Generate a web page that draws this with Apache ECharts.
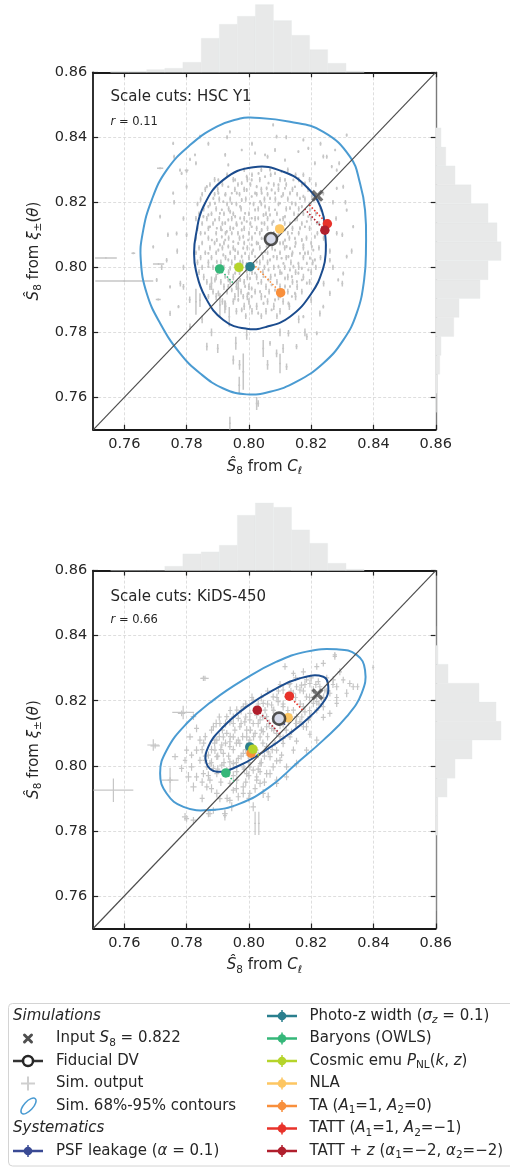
<!DOCTYPE html>
<html><head><meta charset="utf-8">
<script src="https://cdn.jsdelivr.net/npm/echarts@6/dist/echarts.min.js"></script>
<style>html,body{margin:0;padding:0;background:#fff}#c{width:510px;height:1167px}</style>
</head><body><div id="c"></div>
<script>
// ---------------- DATA ----------------
const ticks = [0.76, 0.78, 0.80, 0.82, 0.84, 0.86];
const axisRange = [0.75, 0.86];
const panelTitles = ['Scale cuts: HSC Y1', 'Scale cuts: KiDS-450'];
const rValues = ['0.11', '0.66'];
const inputS8 = 0.822;
const fiducialDV = [[0.8071, 0.8087], [0.8097, 0.8145]];

const sysNames = [
  '{t|PSF leakage (}{i|α}{t| = 0.1)}',
  '{t|Photo-z width (}{i|σ}{subi|z}{t| = 0.1)}',
  '{t|Baryons (OWLS)}',
  '{t|Cosmic emu }{i|P}{sub|NL}{t|(}{i|k}{t|, }{i|z}{t|)}',
  '{t|NLA}',
  '{t|TA (}{i|A}{sub|1}{t|=1, }{i|A}{sub|2}{t|=0)}',
  '{t|TATT (}{i|A}{sub|1}{t|=1, }{i|A}{sub|2}{t|=−1)}',
  '{t|TATT + }{i|z}{t| (}{i|α}{sub|1}{t|=−2, }{i|α}{sub|2}{t|=−2)}'
];
const sysColors = ['#3a4a94', '#2a7f8e', '#35b779', '#b5d42b', '#fdc662', '#f88f3c', '#e8322a', '#b01f2d'];
const sysTop = [[0.8071,0.8087],[0.8004,0.8002],[0.7906,0.7995],[0.7968,0.8000],[0.8099,0.8118],[0.8102,0.7922],[0.8252,0.8134],[0.8244,0.8114]];
const sysBot = [[0.8097,0.8145],[0.8003,0.8058],[0.7926,0.7978],[0.8013,0.8051],[0.8126,0.8148],[0.8007,0.8039],[0.8130,0.8214],[0.8027,0.8171]];

// histogram bin edges and heights
const xEdges = [0.7556,0.7614,0.7672,0.7730,0.7788,0.7847,0.7905,0.7963,0.8021,0.8079,0.8137,0.8195,0.8253,0.8312,0.8370];
const yEdges = [0.7554,0.7612,0.7671,0.7729,0.7787,0.7846,0.7904,0.7962,0.8021,0.8079,0.8137,0.8196,0.8254,0.8312,0.8370,0.8429];
const xHistTop = [1,1,2.7,4,10,34,48,56,67.7,51.7,37,22.7,9,1.3];
const yHistTop = [0.7,1.3,4,5.3,18,23.3,44.3,52.3,65.3,61.3,52.3,35.3,19.3,10,5.3];
const xHistBot = [0,0,0,4.3,16.7,18.7,25.3,55.3,67.7,63.3,40.7,27.3,7.3,1.3];
const yHistBot = [0,0,0,0,2,2,11.3,19.3,36.3,65.3,60.3,43.3,12.3,2.3,0];

// 68% / 95% contours
const inner68Top = [[0.8014,0.8308],[0.8111,0.8294],[0.8185,0.8248],[0.8234,0.8176],[0.8245,0.8100],[0.8247,0.8050],[0.8238,0.7995],[0.8201,0.7920],[0.8132,0.7848],[0.8057,0.7817],[0.7993,0.7811],[0.7918,0.7838],[0.7859,0.7910],[0.7830,0.7990],[0.7824,0.8045],[0.7830,0.8100],[0.7854,0.8187],[0.7918,0.8269]];
const outer95Top = [[0.8004,0.8461],[0.8132,0.8448],[0.8239,0.8417],[0.8325,0.8340],[0.8357,0.8258],[0.8373,0.8176],[0.8376,0.8063],[0.8370,0.7961],[0.8346,0.7858],[0.8303,0.7776],[0.8239,0.7705],[0.8153,0.7648],[0.8068,0.7617],[0.7993,0.7609],[0.7918,0.7627],[0.7843,0.7674],[0.7779,0.7735],[0.7715,0.7828],[0.7672,0.7920],[0.7653,0.8022],[0.7659,0.8105],[0.7688,0.8207],[0.7736,0.8299],[0.7811,0.8376],[0.7897,0.8433],[0.7972,0.8458]];
const inner68Bot = [[0.8239,0.8274],[0.8255,0.8243],[0.8244,0.8202],[0.8196,0.8151],[0.8132,0.8100],[0.8046,0.8043],[0.7961,0.7997],[0.7897,0.7982],[0.7864,0.8007],[0.7870,0.8059],[0.7918,0.8120],[0.7993,0.8182],[0.8078,0.8233],[0.8164,0.8269]];
const outer95Bot = [[0.8282,0.8358],[0.8346,0.8341],[0.8373,0.8294],[0.8362,0.8223],[0.8314,0.8151],[0.8239,0.8079],[0.8153,0.8007],[0.8068,0.7936],[0.7971,0.7884],[0.7875,0.7864],[0.7790,0.7874],[0.7736,0.7915],[0.7715,0.7977],[0.7736,0.8048],[0.7800,0.8130],[0.7886,0.8202],[0.7982,0.8264],[0.8089,0.8320],[0.8185,0.8351]];

// simulation outputs: [x, y, xerr, yerr]
const simTop = [
[0.7784,0.8289,0.0003,0.0005],[0.7827,0.8346,0.0003,0.0004],[0.7924,0.8346,0.0003,0.0006],[0.7934,0.8315,0.0003,0.0005],
[0.7977,0.8361,0.0003,0.0004],[0.8020,0.8351,0.0003,0.0005],[0.8052,0.8346,0.0003,0.0004],[0.8084,0.8361,0.0003,0.0006],
[0.8116,0.8330,0.0003,0.0005],[0.8159,0.8356,0.0003,0.0004],[0.8191,0.8366,0.0003,0.0005],[0.8212,0.8320,0.0003,0.0006],
[0.8266,0.8310,0.0003,0.0005],[0.8277,0.8361,0.0003,0.0004],[0.7902,0.8269,0.0003,0.0005],[0.7865,0.8248,0.0003,0.0005],
[0.7800,0.8295,0.0003,0.0004],
[0.7902,0.8228,0.0003,0.0005],[0.7934,0.8248,0.0003,0.0004],[0.7977,0.8259,0.0003,0.0006],[0.8009,0.8269,0.0003,0.0005],
[0.8052,0.8279,0.0003,0.0004],[0.8084,0.8289,0.0003,0.0005],[0.8116,0.8269,0.0003,0.0006],[0.8148,0.8248,0.0003,0.0004],
[0.8180,0.8259,0.0003,0.0005],[0.8202,0.8218,0.0003,0.0006],[0.7870,0.8187,0.0003,0.0005],[0.7913,0.8177,0.0003,0.0004],
[0.7945,0.8197,0.0003,0.0005],[0.7977,0.8207,0.0003,0.0006],[0.8009,0.8218,0.0003,0.0004],[0.8041,0.8228,0.0003,0.0005],
[0.8073,0.8238,0.0003,0.0005],[0.8105,0.8218,0.0003,0.0004],[0.8138,0.8197,0.0003,0.0006],[0.8170,0.8187,0.0003,0.0005],
[0.8191,0.8156,0.0003,0.0004],[0.7891,0.8146,0.0003,0.0005],[0.7924,0.8136,0.0003,0.0006],[0.7956,0.8156,0.0003,0.0005],
[0.7988,0.8166,0.0003,0.0004],[0.8020,0.8177,0.0003,0.0005],[0.8052,0.8187,0.0003,0.0006],[0.8084,0.8177,0.0003,0.0004],
[0.8116,0.8156,0.0003,0.0005],[0.8148,0.8146,0.0003,0.0005],[0.8180,0.8125,0.0003,0.0004],[0.8212,0.8094,0.0003,0.0006],
[0.7859,0.8105,0.0003,0.0005],[0.7881,0.8084,0.0003,0.0004],[0.7913,0.8094,0.0003,0.0005],[0.7945,0.8105,0.0003,0.0006],
[0.7977,0.8115,0.0003,0.0005],[0.8009,0.8125,0.0003,0.0004],[0.8041,0.8136,0.0003,0.0005],[0.8105,0.8125,0.0003,0.0005],
[0.8138,0.8105,0.0003,0.0004],[0.8170,0.8084,0.0003,0.0006],[0.8202,0.8064,0.0003,0.0005],[0.7870,0.8043,0.0003,0.0004],
[0.7902,0.8053,0.0003,0.0005],[0.7934,0.8064,0.0003,0.0006],[0.7966,0.8074,0.0003,0.0005],[0.7998,0.8084,0.0003,0.0004],
[0.8030,0.8074,0.0003,0.0005],[0.8116,0.8084,0.0003,0.0005],[0.8148,0.8064,0.0003,0.0004],[0.8180,0.8043,0.0003,0.0006],
[0.8212,0.8023,0.0003,0.0005],[0.7870,0.8002,0.0003,0.0004],[0.7934,0.8023,0.0003,0.0005],[0.7977,0.8033,0.0003,0.0006],
[0.8041,0.8043,0.0003,0.0005],[0.8084,0.8053,0.0003,0.0004],[0.8127,0.8033,0.0003,0.0005],[0.8159,0.8012,0.0003,0.0005],
[0.8191,0.7992,0.0003,0.0004],[0.7891,0.7961,0.0003,0.0008],[0.7924,0.7971,0.0003,0.0006],[0.7956,0.7982,0.0003,0.0005],
[0.8020,0.7982,0.0003,0.0004],[0.8063,0.7992,0.0003,0.0005],[0.8095,0.8002,0.0003,0.0006],[0.8138,0.7971,0.0003,0.0005],
[0.8170,0.7961,0.0003,0.0004],[0.7902,0.7920,0.0003,0.0009],[0.7945,0.7930,0.0003,0.0007],[0.7988,0.7941,0.0003,0.0005],
[0.8030,0.7951,0.0003,0.0004],[0.8063,0.7961,0.0003,0.0005],[0.8116,0.7941,0.0003,0.0006],[0.8148,0.7920,0.0003,0.0005],
[0.7870,0.7910,0.0003,0.0008],[0.7924,0.7889,0.0003,0.0007],[0.7966,0.7900,0.0003,0.0006],[0.8009,0.7910,0.0003,0.0005],
[0.8052,0.7910,0.0003,0.0004],[0.8084,0.7900,0.0003,0.0005],[0.8127,0.7889,0.0003,0.0006],[0.7977,0.7869,0.0003,0.0007],
[0.8030,0.7859,0.0003,0.0005],[0.8073,0.7869,0.0003,0.0004],
[0.7886,0.8212,0.0003,0.0005],[0.7918,0.8202,0.0003,0.0004],[0.7961,0.8228,0.0003,0.0005],[0.7993,0.8238,0.0003,0.0006],
[0.8025,0.8248,0.0003,0.0005],[0.8063,0.8259,0.0003,0.0004],[0.8095,0.8254,0.0003,0.0005],[0.8132,0.8228,0.0003,0.0006],
[0.8164,0.8212,0.0003,0.0005],[0.7897,0.8120,0.0003,0.0004],[0.7929,0.8110,0.0003,0.0005],[0.7961,0.8130,0.0003,0.0005],
[0.7993,0.8141,0.0003,0.0004],[0.8030,0.8151,0.0003,0.0006],[0.8068,0.8161,0.0003,0.0005],[0.8100,0.8146,0.0003,0.0004],
[0.8132,0.8136,0.0003,0.0005],[0.8164,0.8120,0.0003,0.0006],[0.7907,0.8069,0.0003,0.0005],[0.7950,0.8079,0.0003,0.0004],
[0.7982,0.8059,0.0003,0.0005],[0.8014,0.8053,0.0003,0.0005],[0.8057,0.8064,0.0003,0.0004],[0.8100,0.8074,0.0003,0.0006],
[0.8132,0.8058,0.0003,0.0005],[0.8164,0.8043,0.0003,0.0004],[0.8196,0.8028,0.0003,0.0005],[0.7897,0.8017,0.0003,0.0006],
[0.7956,0.8007,0.0003,0.0005],[0.7993,0.8012,0.0003,0.0004],[0.8025,0.8017,0.0003,0.0005],[0.8068,0.8023,0.0003,0.0005],
[0.8105,0.8028,0.0003,0.0004],[0.8143,0.8002,0.0003,0.0006],[0.7913,0.7987,0.0003,0.0007],[0.7972,0.7961,0.0003,0.0006],
[0.8004,0.7966,0.0003,0.0005],[0.8047,0.7971,0.0003,0.0004],[0.8084,0.7976,0.0003,0.0005],[0.8116,0.7966,0.0003,0.0006],
[0.8186,0.7951,0.0003,0.0005],[0.7934,0.7941,0.0003,0.0008],[0.8009,0.7935,0.0003,0.0006],[0.8084,0.7930,0.0003,0.0005],
[0.8138,0.7910,0.0003,0.0004],
[0.7854,0.8156,0.0003,0.0005],[0.7875,0.8125,0.0003,0.0004],[0.7897,0.8084,0.0003,0.0006],[0.7918,0.8038,0.0003,0.0005],
[0.7940,0.7997,0.0003,0.0007],[0.7961,0.7951,0.0003,0.0006],[0.7982,0.7910,0.0003,0.0008],[0.8004,0.7879,0.0003,0.0006],
[0.8047,0.7889,0.0003,0.0005],[0.8100,0.7910,0.0003,0.0005],[0.8132,0.7941,0.0003,0.0004],[0.8159,0.7982,0.0003,0.0005],
[0.8186,0.8012,0.0003,0.0005],[0.8207,0.8053,0.0003,0.0004],[0.8218,0.8136,0.0003,0.0005],[0.8196,0.8177,0.0003,0.0006],
[0.8175,0.8218,0.0003,0.0005],[0.8143,0.8269,0.0003,0.0004],[0.8105,0.8295,0.0003,0.0005],[0.8068,0.8300,0.0003,0.0005],
[0.8031,0.8289,0.0003,0.0004],[0.7993,0.8279,0.0003,0.0006],[0.7956,0.8269,0.0003,0.0005],[0.7924,0.8223,0.0003,0.0004],
[0.7891,0.8197,0.0003,0.0005],[0.7870,0.8161,0.0003,0.0005],[0.7907,0.8166,0.0003,0.0004],[0.7940,0.8171,0.0003,0.0006],
[0.7972,0.8187,0.0003,0.0005],[0.8004,0.8197,0.0003,0.0004],[0.8036,0.8202,0.0003,0.0005],[0.8068,0.8212,0.0003,0.0005],
[0.8100,0.8197,0.0003,0.0004],[0.8132,0.8182,0.0003,0.0006],[0.8159,0.8161,0.0003,0.0005],[0.8186,0.8141,0.0003,0.0004],
[0.7934,0.8146,0.0003,0.0005],[0.7972,0.8151,0.0003,0.0005],[0.8009,0.8151,0.0003,0.0004],[0.8047,0.8161,0.0003,0.0006],
[0.8079,0.8141,0.0003,0.0005],[0.8116,0.8115,0.0003,0.0004],[0.8148,0.8089,0.0003,0.0005],[0.8175,0.8069,0.0003,0.0005],
[0.7924,0.8084,0.0003,0.0004],[0.7956,0.8053,0.0003,0.0006],[0.7988,0.8043,0.0003,0.0005],[0.8020,0.8033,0.0003,0.0004],
[0.8052,0.8048,0.0003,0.0005],[0.8079,0.8033,0.0003,0.0005],[0.8111,0.8012,0.0003,0.0004],[0.8138,0.8038,0.0003,0.0006],
[0.8170,0.7997,0.0003,0.0005],[0.7907,0.8002,0.0003,0.0006],[0.7934,0.7961,0.0003,0.0007],[0.7966,0.7935,0.0003,0.0006],
[0.7998,0.7920,0.0003,0.0005],[0.8036,0.7925,0.0003,0.0005],[0.8073,0.7946,0.0003,0.0004],[0.8105,0.7982,0.0003,0.0005],
[0.8132,0.7992,0.0003,0.0005],[0.8154,0.7956,0.0003,0.0004],[0.8031,0.7997,0.0003,0.0005],[0.7993,0.7987,0.0003,0.0006],
[0.7972,0.8018,0.0003,0.0005],[0.8009,0.8069,0.0003,0.0004],[0.8041,0.8089,0.0003,0.0005],[0.8068,0.8100,0.0003,0.0005],
[0.8020,0.8105,0.0003,0.0004],[0.7982,0.8094,0.0003,0.0006],[0.7950,0.8120,0.0003,0.0005],[0.7913,0.8115,0.0003,0.0004],
[0.8095,0.8100,0.0003,0.0005],[0.8121,0.8064,0.0003,0.0005],[0.8089,0.8125,0.0003,0.0004],[0.8041,0.8115,0.0003,0.0006],
[0.7977,0.8136,0.0003,0.0005],[0.7945,0.8228,0.0003,0.0004],[0.8020,0.8228,0.0003,0.0005],[0.8084,0.8228,0.0003,0.0005],
[0.8116,0.8243,0.0003,0.0004],[0.8057,0.8243,0.0003,0.0006],
[0.7830,0.7894,0.0003,0.0040],[0.7843,0.7899,0.0003,0.0021],[0.7880,0.7951,0.0003,0.0021],[0.7907,0.7884,0.0003,0.0036],
[0.7923,0.7879,0.0003,0.0020],[0.7937,0.7848,0.0003,0.0030],[0.7939,0.7520,0.0003,0.0020],[0.7958,0.7766,0.0003,0.0020],
[0.7966,0.7935,0.0003,0.0026],[0.7969,0.7637,0.0003,0.0026],[0.7982,0.7679,0.0003,0.0056],[0.7993,0.7792,0.0003,0.0015],
[0.8046,0.7750,0.0003,0.0026],[0.8100,0.7704,0.0003,0.0030],[0.8030,0.7581,0.0003,0.0010],[0.8127,0.7797,0.0003,0.0010],
[0.7715,0.8305,0.0010,0.0003],[0.7800,0.8299,0.0006,0.0003],[0.7811,0.8332,0.0003,0.0005],[0.8078,0.8438,0.0003,0.0005],
[0.8314,0.8407,0.0003,0.0005],[0.8282,0.8243,0.0003,0.0005],[0.8314,0.8033,0.0003,0.0006],[0.8287,0.7961,0.0003,0.0005],
[0.8335,0.8125,0.0003,0.0005],[0.7709,0.7901,0.0008,0.0003],[0.7747,0.7940,0.0003,0.0005],[0.7629,0.8043,0.0006,0.0003],
[0.7774,0.7879,0.0003,0.0005],[0.8239,0.7879,0.0003,0.0006],[0.8175,0.7848,0.0003,0.0005],[0.8153,0.7756,0.0003,0.0008],
[0.8218,0.7797,0.0003,0.0006],[0.8068,0.7766,0.0003,0.0007],[0.8025,0.7581,0.0003,0.0020],[0.8121,0.7694,0.0003,0.0010],
[0.7541,0.8029,0.0035,0.0003],[0.7600,0.7958,0.0093,0.0003],[0.7710,0.8010,0.0018,0.0003],
[0.7757,0.8381,0.0003,0.0005],[0.7843,0.8402,0.0003,0.0006],[0.7939,0.8417,0.0003,0.0005],[0.8089,0.8402,0.0003,0.0006],
[0.8175,0.8392,0.0003,0.0005],[0.8239,0.8341,0.0003,0.0006],[0.8282,0.8299,0.0003,0.0005],[0.8303,0.8248,0.0003,0.0006],
[0.8314,0.8176,0.0003,0.0005],[0.8282,0.8105,0.0003,0.0007],[0.8303,0.7981,0.0003,0.0006],[0.8260,0.7920,0.0003,0.0008],
[0.8228,0.7858,0.0003,0.0009],[0.8186,0.7786,0.0003,0.0010],[0.8089,0.7735,0.0003,0.0012],[0.7950,0.7715,0.0003,0.0014],
[0.7865,0.7756,0.0003,0.0012],[0.7811,0.7817,0.0003,0.0010],[0.7747,0.7858,0.0003,0.0008],[0.7704,0.7961,0.0003,0.0006],
[0.7693,0.8063,0.0003,0.0005],[0.7715,0.8156,0.0003,0.0006],[0.7757,0.8228,0.0003,0.0005],[0.7800,0.8248,0.0003,0.0006],
[0.7779,0.8299,0.0003,0.0005],[0.7736,0.8022,0.0003,0.0007],[0.7768,0.8104,0.0003,0.0006],[0.7790,0.7940,0.0003,0.0009],
[0.8239,0.8227,0.0003,0.0006],[0.8260,0.8022,0.0003,0.0007]
];
// further simulation outputs read row by row: [y, xerr, yerr, [x values]]
const simTopRows = [
[0.8300,0.0003,0.0007,[0.7985,0.8040,0.8125]],
[0.8285,0.0003,0.0007,[0.7930,0.8010,0.8070,0.8150,0.8175]],
[0.8270,0.0003,0.0008,[0.7890,0.7950,0.7995,0.8035,0.8100,0.8160,0.8195]],
[0.8255,0.0003,0.0007,[0.7875,0.7915,0.7965,0.8005,0.8080,0.8120,0.8170,0.8215]],
[0.8240,0.0003,0.0008,[0.7860,0.7900,0.7955,0.7985,0.8040,0.8095,0.8140,0.8190]],
[0.8225,0.0003,0.0007,[0.7850,0.7890,0.7925,0.7970,0.8025,0.8060,0.8110,0.8155,0.8205]],
[0.8210,0.0003,0.0008,[0.7845,0.7905,0.7940,0.7990,0.8050,0.8085,0.8125,0.8180,0.8225]],
[0.8195,0.0003,0.0007,[0.7835,0.7875,0.7930,0.7960,0.8015,0.8040,0.8095,0.8150,0.8195]],
[0.8180,0.0003,0.0008,[0.7855,0.7895,0.7935,0.7975,0.8030,0.8065,0.8120,0.8160,0.8230]],
[0.8165,0.0003,0.0007,[0.7840,0.7880,0.7920,0.7950,0.8000,0.8055,0.8090,0.8145,0.8175,0.8215]],
[0.8150,0.0003,0.0008,[0.7830,0.7865,0.7905,0.7945,0.7985,0.8020,0.8060,0.8110,0.8155,0.8200,0.8240]],
[0.8135,0.0003,0.0007,[0.7850,0.7885,0.7915,0.7960,0.8005,0.8050,0.8075,0.8115,0.8170,0.8225]],
[0.8120,0.0003,0.0008,[0.7835,0.7870,0.7910,0.7940,0.7985,0.8025,0.8060,0.8140,0.8195,0.8235]],
[0.8105,0.0003,0.0007,[0.7845,0.7895,0.7925,0.7965,0.8000,0.8035,0.8080,0.8125,0.8160,0.8220]],
[0.8090,0.0003,0.0008,[0.7830,0.7870,0.7935,0.7970,0.8010,0.8050,0.8090,0.8130,0.8185,0.8240]],
[0.8075,0.0003,0.0007,[0.7850,0.7890,0.7920,0.7985,0.8025,0.8065,0.8110,0.8150,0.8200]],
[0.8060,0.0003,0.0008,[0.7840,0.7875,0.7915,0.7950,0.7995,0.8035,0.8075,0.8115,0.8175,0.8225]],
[0.8045,0.0003,0.0007,[0.7830,0.7860,0.7895,0.7940,0.7965,0.8010,0.8060,0.8100,0.8140,0.8190]],
[0.8030,0.0003,0.0008,[0.7845,0.7880,0.7925,0.7955,0.8000,0.8045,0.8090,0.8120,0.8175,0.8230]],
[0.8015,0.0003,0.0009,[0.7835,0.7870,0.7910,0.7945,0.7980,0.8035,0.8060,0.8135,0.8205]],
[0.8000,0.0003,0.0008,[0.7850,0.7885,0.7920,0.7990,0.8050,0.8080,0.8115,0.8160,0.8215]],
[0.7985,0.0003,0.0009,[0.7840,0.7900,0.7935,0.7970,0.8010,0.8045,0.8100,0.8150,0.8200]],
[0.7970,0.0003,0.0010,[0.7855,0.7895,0.7950,0.7995,0.8025,0.8070,0.8125,0.8175]],
[0.7955,0.0003,0.0009,[0.7865,0.7910,0.7940,0.7985,0.8040,0.8090,0.8140,0.8195]],
[0.7940,0.0003,0.0010,[0.7875,0.7920,0.7960,0.8000,0.8055,0.8100,0.8155]],
[0.7925,0.0003,0.0009,[0.7885,0.7930,0.7975,0.8020,0.8065,0.8125,0.8170]],
[0.7910,0.0003,0.0011,[0.7895,0.7955,0.7995,0.8040,0.8095,0.8150]],
[0.7895,0.0003,0.0010,[0.7915,0.7950,0.8000,0.8060,0.8110]],
[0.7880,0.0003,0.0011,[0.7925,0.7985,0.8025,0.8080,0.8130]],
[0.7865,0.0003,0.0010,[0.7960,0.8010,0.8055,0.8100]],
[0.7850,0.0003,0.0009,[0.7990,0.8040,0.8090]],
[0.8400,0.0003,0.0006,[0.7930,0.8120]],
[0.8380,0.0003,0.0006,[0.7870,0.8010,0.8230]],
[0.8340,0.0003,0.0006,[0.7760,0.8060,0.8250]],
[0.8320,0.0003,0.0006,[0.7830,0.8290]],
[0.8200,0.0003,0.0007,[0.7760,0.8270,0.8310]],
[0.8150,0.0003,0.0007,[0.7790,0.8280]],
[0.8100,0.0003,0.0007,[0.7740,0.7800,0.8300]],
[0.8050,0.0003,0.0008,[0.7770,0.8260,0.8330]],
[0.8000,0.0003,0.0008,[0.7720,0.7790,0.8270]],
[0.7950,0.0003,0.0009,[0.7780,0.8240,0.8300]],
[0.7900,0.0003,0.0010,[0.7810,0.8200]],
[0.7840,0.0003,0.0012,[0.7850,0.8160]],
[0.7800,0.0003,0.0012,[0.7880,0.8100,0.8180]],
[0.7750,0.0003,0.0014,[0.7900,0.8110]],
[0.7700,0.0003,0.0015,[0.7970,0.8060]]
];
const simBot = [
[0.7565,0.7925,0.0064,0.0036],[0.7747,0.7956,0.0027,0.0038],[0.7693,0.8064,0.0019,0.0018],[0.7789,0.8164,0.0035,0.0021],
[0.7859,0.8269,0.0012,0.0008],[0.8020,0.7823,0.0003,0.0036],[0.8032,0.7823,0.0003,0.0036],[0.7800,0.7838,0.0008,0.0010],
[0.7923,0.7847,0.0006,0.0015],[0.7875,0.7853,0.0008,0.0010],[0.8399,0.8303,0.0004,0.0008],
[0.7854,0.8269,0.0010,0.0008],[0.7784,0.8161,0.0012,0.0009],[0.7822,0.8151,0.0009,0.0010],[0.7832,0.8115,0.0008,0.0012],
[0.7811,0.8089,0.0010,0.0010],[0.7843,0.8079,0.0008,0.0013],[0.7699,0.8061,0.0015,0.0008],[0.7763,0.8028,0.0010,0.0010],
[0.7832,0.8048,0.0009,0.0012],[0.7891,0.8079,0.0008,0.0010],[0.7918,0.8089,0.0007,0.0011],[0.7816,0.7997,0.0009,0.0012],
[0.7806,0.7966,0.0010,0.0015],[0.7854,0.7976,0.0008,0.0011],[0.7875,0.7956,0.0009,0.0010],[0.7747,0.7956,0.0008,0.0009],
[0.7822,0.7935,0.0010,0.0014],[0.7865,0.7935,0.0008,0.0011],[0.7897,0.7915,0.0009,0.0012],[0.7950,0.7925,0.0008,0.0010],
[0.7982,0.7935,0.0009,0.0013],[0.8003,0.7915,0.0008,0.0011],[0.7939,0.7894,0.0009,0.0010],[0.8036,0.7946,0.0008,0.0012],
[0.8014,0.7874,0.0009,0.0014],[0.7795,0.7843,0.0010,0.0012],[0.7822,0.7833,0.0009,0.0010],[0.7870,0.7853,0.0008,0.0011],
[0.7923,0.7853,0.0009,0.0013],[0.7886,0.7863,0.0008,0.0010],
[0.8116,0.8305,0.0008,0.0010],[0.8143,0.8284,0.0007,0.0009],[0.8175,0.8289,0.0008,0.0011],[0.8218,0.8305,0.0008,0.0010],
[0.8276,0.8341,0.0007,0.0009],[0.8239,0.8315,0.0008,0.0010],[0.8292,0.8289,0.0007,0.0011],[0.8324,0.8253,0.0008,0.0010],
[0.8314,0.8223,0.0007,0.0012],[0.8335,0.8243,0.0008,0.0010],[0.8185,0.8264,0.0008,0.0009],[0.8153,0.8243,0.0007,0.0010],
[0.8271,0.8264,0.0008,0.0011],[0.8239,0.8182,0.0007,0.0012],[0.8260,0.8161,0.0008,0.0010],[0.8282,0.8192,0.0007,0.0011],
[0.7929,0.8151,0.0008,0.0010],[0.7950,0.8130,0.0008,0.0011],[0.7971,0.8120,0.0007,0.0010],[0.7993,0.8110,0.0008,0.0012],
[0.8014,0.8130,0.0008,0.0010],[0.8036,0.8141,0.0007,0.0011],[0.8057,0.8151,0.0008,0.0010],[0.8003,0.8161,0.0008,0.0012],
[0.7982,0.8182,0.0007,0.0010],[0.8046,0.8192,0.0008,0.0011],[0.8078,0.8212,0.0008,0.0010],[0.8110,0.8233,0.0007,0.0012],
[0.8132,0.8253,0.0008,0.0010],[0.8164,0.8233,0.0008,0.0011],[0.8185,0.8212,0.0007,0.0010],[0.8207,0.8233,0.0008,0.0012],
[0.8228,0.8243,0.0008,0.0010],[0.8175,0.8182,0.0007,0.0011],[0.8143,0.8171,0.0008,0.0010],[0.8110,0.8182,0.0008,0.0012],
[0.8078,0.8171,0.0007,0.0010],[0.8057,0.8120,0.0008,0.0011],[0.8089,0.8100,0.0008,0.0010],[0.8036,0.8089,0.0007,0.0012],
[0.8003,0.8079,0.0008,0.0010],[0.7971,0.8069,0.0008,0.0011],[0.7939,0.8059,0.0007,0.0010],[0.7918,0.8038,0.0008,0.0012],
[0.7897,0.8028,0.0008,0.0010],[0.7875,0.8007,0.0007,0.0011],[0.7950,0.8089,0.0008,0.0010],[0.7982,0.8038,0.0008,0.0012],
[0.8025,0.8048,0.0007,0.0010],[0.8057,0.8059,0.0008,0.0011],[0.8089,0.8048,0.0008,0.0010],[0.8110,0.8069,0.0007,0.0012],
[0.8132,0.8089,0.0008,0.0010],[0.8153,0.8130,0.0008,0.0011],[0.8175,0.8120,0.0007,0.0010],[0.8196,0.8151,0.0008,0.0012],
[0.8218,0.8171,0.0008,0.0010],[0.8143,0.8048,0.0007,0.0011],[0.8100,0.8017,0.0008,0.0010],[0.8068,0.8028,0.0008,0.0012],
[0.8036,0.8007,0.0007,0.0010],[0.8014,0.7987,0.0008,0.0011],[0.7982,0.7997,0.0008,0.0010],[0.7950,0.8007,0.0007,0.0012],
[0.7929,0.7987,0.0008,0.0010],[0.7897,0.7976,0.0008,0.0011],[0.7865,0.7997,0.0007,0.0010],[0.8057,0.7976,0.0008,0.0012],
[0.8025,0.7956,0.0008,0.0010],[0.8089,0.7956,0.0007,0.0011],[0.8121,0.7997,0.0008,0.0010],[0.7961,0.7956,0.0008,0.0012],
[0.7939,0.7946,0.0007,0.0010],[0.8003,0.8141,0.0008,0.0011],[0.8014,0.8202,0.0008,0.0010],[0.7961,0.8171,0.0007,0.0012],
[0.7929,0.8100,0.0008,0.0010],[0.7897,0.8079,0.0008,0.0011],[0.7907,0.8130,0.0007,0.0010],[0.7886,0.8120,0.0008,0.0012],
[0.8276,0.8336,0.0007,0.0010],[0.8349,0.8243,0.0006,0.0010],[0.8282,0.8210,0.0007,0.0011],[0.8239,0.8149,0.0008,0.0010],
[0.8185,0.8120,0.0007,0.0012],[0.8153,0.8076,0.0008,0.0010],[0.8196,0.8097,0.0007,0.0011],[0.8089,0.8015,0.0008,0.0010],
[0.8068,0.7976,0.0008,0.0013],[0.8025,0.7966,0.0007,0.0011],[0.8046,0.7915,0.0008,0.0014],[0.7982,0.7915,0.0008,0.0012],
[0.8003,0.7997,0.0007,0.0010],
[0.7939,0.8135,0.0008,0.0011],[0.7966,0.8146,0.0008,0.0010],[0.7987,0.8135,0.0007,0.0012],[0.8025,0.8156,0.0008,0.0011],
[0.8052,0.8171,0.0008,0.0010],[0.8073,0.8187,0.0007,0.0011],[0.8094,0.8197,0.0008,0.0012],[0.8121,0.8212,0.0008,0.0010],
[0.8143,0.8223,0.0007,0.0011],[0.8169,0.8248,0.0008,0.0010],[0.8196,0.8253,0.0008,0.0012],[0.8223,0.8259,0.0007,0.0010],
[0.8244,0.8233,0.0008,0.0011],[0.8234,0.8207,0.0008,0.0010],[0.8207,0.8192,0.0007,0.0012],[0.8180,0.8166,0.0008,0.0011],
[0.8153,0.8151,0.0008,0.0010],[0.8127,0.8135,0.0007,0.0011],[0.8100,0.8125,0.0008,0.0012],[0.8073,0.8115,0.0008,0.0010],
[0.8046,0.8105,0.0007,0.0011],[0.8020,0.8100,0.0008,0.0010],[0.7993,0.8089,0.0008,0.0012],[0.7966,0.8079,0.0007,0.0010],
[0.7939,0.8074,0.0008,0.0011],[0.7913,0.8064,0.0008,0.0010],[0.7891,0.8048,0.0007,0.0012],[0.7870,0.8033,0.0008,0.0011],
[0.7859,0.8017,0.0008,0.0010],[0.7886,0.7992,0.0007,0.0012],[0.7913,0.8002,0.0008,0.0010],[0.7939,0.8012,0.0008,0.0011],
[0.7966,0.8023,0.0007,0.0010],[0.7998,0.8033,0.0008,0.0012],[0.8030,0.8033,0.0008,0.0010],[0.8062,0.8043,0.0007,0.0011],
[0.8084,0.8069,0.0008,0.0010],[0.8110,0.8084,0.0008,0.0012],[0.8137,0.8105,0.0007,0.0010],[0.8164,0.8135,0.0008,0.0011],
[0.8191,0.8141,0.0008,0.0010],[0.8218,0.8197,0.0007,0.0012],[0.8260,0.8223,0.0008,0.0010],[0.8282,0.8243,0.0008,0.0011],
[0.8303,0.8264,0.0007,0.0010],[0.7961,0.7982,0.0008,0.0012],[0.7993,0.7976,0.0008,0.0011],[0.8036,0.7982,0.0007,0.0010],
[0.8078,0.7997,0.0008,0.0012],[0.8105,0.8033,0.0008,0.0010],[0.7843,0.8017,0.0007,0.0011],[0.7816,0.8033,0.0008,0.0010],
[0.7800,0.8048,0.0008,0.0012],[0.7795,0.8017,0.0007,0.0010],[0.7832,0.7966,0.0008,0.0013],[0.7784,0.7992,0.0008,0.0011],
[0.7945,0.7874,0.0007,0.0014],[0.7966,0.7905,0.0008,0.0012],[0.7907,0.7899,0.0008,0.0011],[0.8062,0.7905,0.0007,0.0013],
[0.8089,0.7946,0.0008,0.0011],[0.8121,0.7966,0.0008,0.0010],[0.8153,0.8007,0.0007,0.0012],[0.8185,0.8048,0.0008,0.0010],
[0.8218,0.8079,0.0008,0.0011]
];
const simBotRows = [
[0.8270,0.0008,0.0010,[0.8150,0.8200,0.8250]],
[0.8250,0.0007,0.0011,[0.8100,0.8130,0.8180,0.8215,0.8270]],
[0.8230,0.0008,0.0010,[0.8060,0.8095,0.8135,0.8175,0.8250]],
[0.8210,0.0007,0.0012,[0.8010,0.8040,0.8090,0.8150,0.8195,0.8240]],
[0.8190,0.0008,0.0011,[0.7990,0.8030,0.8060,0.8110,0.8165,0.8225]],
[0.8170,0.0007,0.0012,[0.7940,0.7975,0.8020,0.8080,0.8125,0.8195]],
[0.8150,0.0008,0.0011,[0.7905,0.7950,0.7990,0.8045,0.8085,0.8135,0.8170]],
[0.8130,0.0007,0.0012,[0.7895,0.7925,0.7975,0.8030,0.8065,0.8110,0.8150]],
[0.8110,0.0008,0.0011,[0.7880,0.7915,0.7955,0.8005,0.8040,0.8080,0.8120]],
[0.8090,0.0007,0.0012,[0.7860,0.7905,0.7940,0.7980,0.8015,0.8060,0.8100]],
[0.8070,0.0008,0.0011,[0.7855,0.7890,0.7925,0.7960,0.8000,0.8045]],
[0.8050,0.0007,0.0012,[0.7850,0.7880,0.7910,0.7950,0.7990,0.8020,0.8075]],
[0.8030,0.0008,0.0011,[0.7860,0.7900,0.7935,0.7975,0.8010,0.8050]],
[0.8010,0.0007,0.0013,[0.7880,0.7920,0.7960,0.8000,0.8040]],
[0.7990,0.0008,0.0012,[0.7900,0.7940,0.7985,0.8030]],
[0.7970,0.0008,0.0013,[0.7870,0.7950,0.8000]],
[0.7950,0.0008,0.0012,[0.7850,0.7910,0.7990,0.8050]],
[0.7930,0.0008,0.0013,[0.7880,0.7960,0.8020]],
[0.7900,0.0008,0.0012,[0.7850,0.7930,0.8000]]
];

// ---------------- CHART ----------------
const FONT = 'DejaVu Sans';
const TXT = '#262626';
const G = [
  {main:{left:93.15, top:72.3, width:342.6, height:357.5}, xh:{left:93.15, top:0, width:342.6, height:72.3}, yh:{left:435.75, top:72.3, width:74.25, height:357.5}},
  {main:{left:93.15, top:570.6, width:342.6, height:357.9}, xh:{left:93.15, top:498.3, width:342.6, height:72.3}, yh:{left:435.75, top:570.6, width:74.25, height:357.9}}
];
function expandRows(rows){
  const out = [];
  rows.forEach(r => r[3].forEach(x => out.push([x, r[0], r[1], r[2]])));
  return out;
}
const sims = [simTop.concat(expandRows(simTopRows)), simBot.concat(expandRows(simBotRows))];
const syss = [sysTop, sysBot];
const inners = [inner68Top, inner68Bot];
const outers = [outer95Top, outer95Bot];
const xHists = [xHistTop, xHistBot];
const yHists = [yHistTop, yHistBot];
const errWidth = [1.5, 1.2];
const HISTC = '#e8e9e9';
const XPATH = 'path://M2,0 L5,3 L8,0 L10,2 L7,5 L10,8 L8,10 L5,7 L2,10 L0,8 L3,5 L0,2 Z';

const axisRich = {
  t:{fontSize:15, lineHeight:20, color:TXT, fontFamily:FONT},
  i:{fontSize:15, lineHeight:20, color:TXT, fontFamily:FONT, fontStyle:'italic'},
  sub:{fontSize:10.5, lineHeight:11, color:TXT, fontFamily:FONT, verticalAlign:'bottom'},
  subi:{fontSize:10.5, lineHeight:11, color:TXT, fontFamily:FONT, fontStyle:'italic', verticalAlign:'bottom'}
};

function errRender(lw){
  return function(params, api){
    const x = api.value(0), y = api.value(1), xe = api.value(2), ye = api.value(3);
    const a = api.coord([x - xe, y]), b = api.coord([x + xe, y]);
    const c = api.coord([x, y - ye]), d = api.coord([x, y + ye]);
    const st = {stroke:'#c6c6c6', lineWidth:lw};
    return {type:'group', children:[
      {type:'line', shape:{x1:a[0], y1:a[1], x2:b[0], y2:b[1]}, style:st},
      {type:'line', shape:{x1:c[0], y1:c[1], x2:d[0], y2:d[1]}, style:st}
    ]};
  };
}
function contourRender(pts, color){
  return function(params, api){
    if (params.dataIndex !== 0) return null;
    const points = pts.map(p => api.coord(p));
    return {type:'polygon', shape:{points:points, smooth:0.45}, style:{fill:'none', stroke:color, lineWidth:2}};
  };
}
function xHistRender(params, api){
  const p0 = api.coord([api.value(0), 0]);
  const p1 = api.coord([api.value(1), api.value(2)]);
  return {type:'rect', shape:{x:p0[0], y:p1[1], width:p1[0]-p0[0], height:p0[1]-p1[1]}, style:{fill:HISTC, stroke:HISTC, lineWidth:0.3}};
}
function yHistRender(params, api){
  const p0 = api.coord([0, api.value(0)]);
  const p1 = api.coord([api.value(2), api.value(1)]);
  return {type:'rect', shape:{x:p0[0], y:p1[1], width:p1[0]-p0[0], height:p0[1]-p1[1]}, style:{fill:HISTC, stroke:HISTC, lineWidth:0.3}};
}

const grid = [], xAxis = [], yAxis = [], series = [];
const spine = (c, w) => ({show:true, onZero:false, lineStyle:{color:c, width:w}});
const tickIn = {show:true, inside:true, length:5, lineStyle:{color:'#222', width:1.2}, customValues:ticks};
const split = {show:true, lineStyle:{color:'#d6d6d6', width:0.8, type:[3,2]}};
const hidden = {show:false};

for (let p = 0; p < 2; p++) {
  const g = G[p];
  grid.push(Object.assign({containLabel:false, outerBoundsMode:'none'}, g.main));
  grid.push(Object.assign({containLabel:false, outerBoundsMode:'none'}, g.xh));
  grid.push(Object.assign({containLabel:false, outerBoundsMode:'none'}, g.yh));
  const gm = 3*p, gx = 3*p+1, gy = 3*p+2;
  xAxis.push({type:'value', gridIndex:gm, position:'bottom', min:axisRange[0], max:axisRange[1],
    axisLine:spine('#1a1a1a',1.8), axisTick:tickIn, splitLine:split,
    axisLabel:{show:true, customValues:ticks, formatter:v=>v.toFixed(2), color:TXT, fontSize:14.5, fontFamily:FONT, margin:7},
    name:'{i|Ŝ}{sub|8}{t| from }{i|C}{subi|ℓ}', nameLocation:'middle', nameGap:27,
    nameTextStyle:{rich:axisRich, fontSize:15, fontFamily:FONT, color:TXT}});
  xAxis.push({type:'value', gridIndex:gm, position:'top', min:axisRange[0], max:axisRange[1],
    axisLine:spine('#1a1a1a',1.8), axisTick:tickIn, splitLine:hidden, axisLabel:hidden});
  xAxis.push({type:'value', gridIndex:gx, min:axisRange[0], max:axisRange[1], show:false});
  xAxis.push({type:'value', gridIndex:gy, min:0, max:74.25, show:false});
  yAxis.push({type:'value', gridIndex:gm, position:'left', min:axisRange[0], max:axisRange[1],
    axisLine:spine('#1a1a1a',1.8), axisTick:tickIn, splitLine:split,
    axisLabel:{show:true, customValues:ticks, formatter:v=>v.toFixed(2), color:TXT, fontSize:14.5, fontFamily:FONT, margin:6},
    name:'{i|Ŝ}{sub|8}{t| from }{i|ξ}{sub|±}{t|(}{i|θ}{t|)}', nameLocation:'middle', nameGap:43,
    nameTextStyle:{rich:axisRich, fontSize:15, fontFamily:FONT, color:TXT}});
  yAxis.push({type:'value', gridIndex:gm, position:'right', min:axisRange[0], max:axisRange[1],
    axisLine:spine('#7a7a7a',1.4), axisTick:tickIn, splitLine:hidden, axisLabel:hidden});
  yAxis.push({type:'value', gridIndex:gx, min:0, max:72.3, show:false});
  yAxis.push({type:'value', gridIndex:gy, min:axisRange[0], max:axisRange[1], show:false});

  const xi = 4*p, yi = 4*p;
  series.push({type:'custom', xAxisIndex:4*p+2, yAxisIndex:4*p+2, renderItem:xHistRender, z:1, silent:true,
    data: xHists[p].map((v,k)=>[xEdges[k], xEdges[k+1], v])});
  series.push({type:'custom', xAxisIndex:4*p+3, yAxisIndex:4*p+3, renderItem:yHistRender, z:1, silent:true,
    encode:{x:2, y:0}, data: yHists[p].map((v,k)=>[yEdges[k], yEdges[k+1], v])});
  series.push({type:'custom', xAxisIndex:xi, yAxisIndex:yi, renderItem:errRender(errWidth[p]), clip:true, z:2, silent:true,
    encode:{x:0, y:1}, data:sims[p]});
  series.push({type:'custom', xAxisIndex:xi, yAxisIndex:yi, renderItem:contourRender(outers[p], '#4a9bd2'), z:3, silent:true,
    encode:{x:0, y:1}, data:outers[p]});
  series.push({type:'custom', xAxisIndex:xi, yAxisIndex:yi, renderItem:contourRender(inners[p], '#1b4c8e'), z:3, silent:true,
    encode:{x:0, y:1}, data:inners[p]});
  series.push({type:'line', xAxisIndex:xi, yAxisIndex:yi, data:[[axisRange[0],axisRange[0]],[axisRange[1],axisRange[1]]], symbol:'none',
    lineStyle:{color:'#4d4d4d', width:1.2}, z:4, silent:true});
  const order = [0,1,2,4,5,3,6,7];
  order.forEach(k => {
    const pt = syss[p][k];
    const m = (pt[0] + pt[1]) / 2;
    series.push({type:'line', xAxisIndex:xi, yAxisIndex:yi, data:[pt, [m, m]], symbol:'none',
      lineStyle:{color:sysColors[k], width:1.6, type:[1.5,2]}, z:5, silent:true});
  });
  order.forEach(k => {
    series.push({type:'scatter', xAxisIndex:xi, yAxisIndex:yi, data:[syss[p][k]], symbol:'circle', symbolSize:9.5,
      itemStyle:{color:sysColors[k], opacity:1}, z:6, silent:true});
  });
  series.push({type:'scatter', xAxisIndex:xi, yAxisIndex:yi, data:[fiducialDV[p]], symbol:'circle', symbolSize:12,
    itemStyle:{color:'#fff', borderColor:'#262626', borderWidth:2.6}, z:7, silent:true});
  series.push({type:'scatter', xAxisIndex:xi, yAxisIndex:yi, data:[[inputS8, inputS8]], symbol:XPATH, symbolSize:12,
    itemStyle:{color:'#4f4f4f'}, z:8, silent:true});
}

// ---------------- ANNOTATIONS & LEGEND (graphic) ----------------
const gRich = {
  t:{fontSize:15, lineHeight:20, fill:TXT, fontFamily:FONT},
  i:{fontSize:15, lineHeight:20, fill:TXT, fontFamily:FONT, fontStyle:'italic'},
  sub:{fontSize:10.5, lineHeight:11, fill:TXT, fontFamily:FONT, verticalAlign:'bottom'},
  subi:{fontSize:10.5, lineHeight:11, fill:TXT, fontFamily:FONT, fontStyle:'italic', verticalAlign:'bottom'},
  r:{fontSize:11.5, lineHeight:16, fill:TXT, fontFamily:FONT},
  ri:{fontSize:11.5, lineHeight:16, fill:TXT, fontFamily:FONT, fontStyle:'italic'}
};
const graphic = [];
function gtext(x, y, text){
  graphic.push({type:'text', x:x, y:y, z:100, style:{text:text, rich:gRich, fill:TXT, fontSize:15, fontFamily:FONT, align:'left', verticalAlign:'middle'}});
}
const titleY = [97, 596.7], rY = [122, 620];
for (let p = 0; p < 2; p++) {
  gtext(110.5, titleY[p], '{t|' + panelTitles[p] + '}');
  gtext(110.5, rY[p], '{ri|r}{r| = ' + rValues[p] + '}');
}
graphic.push({type:'rect', shape:{x:8.5, y:1003.5, width:510, height:162.5, r:4}, style:{fill:'#fff', stroke:'#d4d4d4', lineWidth:1}, z:50});
const rowY = [1016, 1038.5, 1061, 1083.5, 1106, 1128.5, 1151];
const legSim = ['{i|Simulations}', '{t|Input }{i|S}{sub|8}{t| = ' + inputS8.toFixed(3) + '}', '{t|Fiducial DV}', '{t|Sim. output}', '{t|Sim. 68%-95% contours}', '{i|Systematics}'];
gtext(13, rowY[0], legSim[0]);
gtext(56, rowY[1], legSim[1]);
gtext(56, rowY[2], legSim[2]);
gtext(56, rowY[3], legSim[3]);
gtext(56, rowY[4], legSim[4]);
gtext(13, rowY[5], legSim[5]);
gtext(56, rowY[6], sysNames[0]);
graphic.push({type:'line', shape:{x1:24.5, y1:rowY[1]-3.5, x2:31.5, y2:rowY[1]+3.5}, style:{stroke:'#4f4f4f', lineWidth:3, lineCap:'round'}, z:101});
graphic.push({type:'line', shape:{x1:24.5, y1:rowY[1]+3.5, x2:31.5, y2:rowY[1]-3.5}, style:{stroke:'#4f4f4f', lineWidth:3, lineCap:'round'}, z:101});
graphic.push({type:'line', shape:{x1:13, y1:rowY[2], x2:43, y2:rowY[2]}, style:{stroke:'#333', lineWidth:2.5}, z:101});
graphic.push({type:'circle', shape:{cx:28, cy:rowY[2], r:5}, style:{fill:'#fff', stroke:'#262626', lineWidth:2.5}, z:102});
graphic.push({type:'line', shape:{x1:21, y1:rowY[3], x2:35, y2:rowY[3]}, style:{stroke:'#cfcfcf', lineWidth:2}, z:101});
graphic.push({type:'line', shape:{x1:28, y1:rowY[3]-7, x2:28, y2:rowY[3]+7}, style:{stroke:'#cfcfcf', lineWidth:2}, z:101});
graphic.push({type:'ellipse', x:28.5, y:rowY[4], rotation:-0.75, shape:{cx:0, cy:0, rx:4.5, ry:10}, style:{fill:'none', stroke:'#4a9bd2', lineWidth:1.5}, z:101});
function sysMarker(cx, y, color){
  graphic.push({type:'line', shape:{x1:cx-15, y1:y, x2:cx+15, y2:y}, style:{stroke:color, lineWidth:2.5}, z:101});
  graphic.push({type:'line', shape:{x1:cx, y1:y-6, x2:cx, y2:y+6}, style:{stroke:color, lineWidth:1.5}, z:101});
  graphic.push({type:'circle', shape:{cx:cx, cy:y, r:4.3}, style:{fill:color}, z:102});
}
sysMarker(28, rowY[6], sysColors[0]);
for (let k = 1; k < 8; k++) {
  sysMarker(282, rowY[k-1], sysColors[k]);
  gtext(309.5, rowY[k-1], sysNames[k]);
}

const chart = echarts.init(document.getElementById('c'), null, {renderer:'canvas'});
chart.setOption({animation:false, backgroundColor:'#fff', grid, xAxis, yAxis, series, graphic});
</script>
</body></html>
